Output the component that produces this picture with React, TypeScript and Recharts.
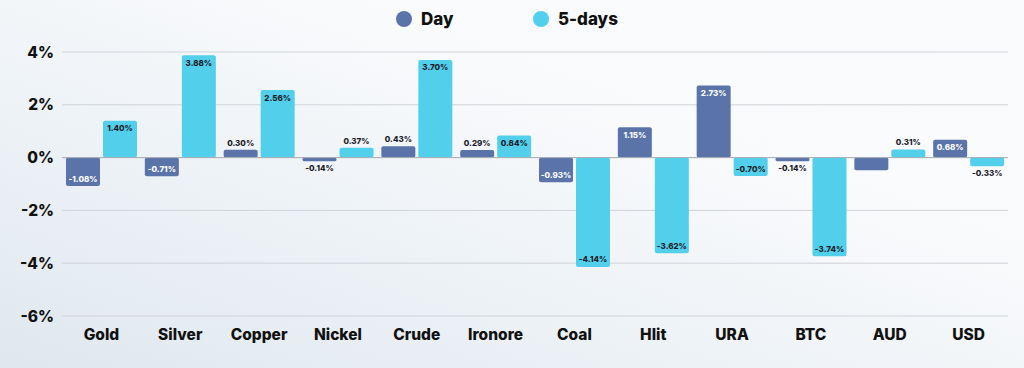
import React from "react";
import { BarChart, Bar, XAxis, YAxis, CartesianGrid, ReferenceLine, LabelList } from "recharts";

const categories = ["Gold", "Silver", "Copper", "Nickel", "Crude", "Ironore", "Coal", "Hlit", "URA", "BTC", "AUD", "USD"];
const dayValues = [-1.08, -0.71, 0.3, -0.14, 0.43, 0.29, -0.93, 1.15, 2.73, -0.14, -0.48, 0.68];
const fiveDayValues = [1.4, 3.88, 2.56, 0.37, 3.7, 0.84, -4.14, -3.62, -0.7, -3.74, 0.31, -0.33];
const dayLabels = ["-1.08%", "-0.71%", "0.30%", "-0.14%", "0.43%", "0.29%", "-0.93%", "1.15%", "2.73%", "-0.14%", "", "0.68%"];
const fiveDayLabels = ["1.40%", "3.88%", "2.56%", "0.37%", "3.70%", "0.84%", "-4.14%", "-3.62%", "-0.70%", "-3.74%", "0.31%", "-0.33%"];
const yTicks = [-6, -4, -2, 0, 2, 4];

const DAY_COLOR = "#5a74aa";
const FIVE_COLOR = "#52cfea";
const FONT = "Inter, 'Open Sans', sans-serif";

const data = categories.map((name, i) => ({
  name,
  day: dayValues[i],
  five: fiveDayValues[i],
  dayLabel: dayLabels[i],
  fiveLabel: fiveDayLabels[i],
}));

const RoundedBar = (props: any) => {
  const { x, y, width, height, fill } = props;
  if (width == null || height == null) return null;
  const top = Math.min(y, y + height);
  const h = Math.abs(height);
  const r = Math.min(2, h / 2, width / 2);
  return <rect x={x} y={top} width={width} height={h} rx={r} ry={r} fill={fill} />;
};

const makeLabel = (labels: string[], values: number[], insideColor: string, outsideColor: string) => (props: any) => {
  const { x, y, width, height, index } = props;
  const text = labels[index];
  if (!text) return null;
  const v = values[index];
  const top = Math.min(y, y + height);
  const bottom = Math.max(y, y + height);
  const h = Math.abs(height);
  const inside = h >= 15;
  let cy: number;
  if (v >= 0) {
    cy = inside ? top + 7.5 : top - 7;
  } else {
    cy = inside ? bottom - 7.5 : bottom + 7;
  }
  return (
    <text
      x={x + width / 2}
      y={cy}
      textAnchor="middle"
      dominantBaseline="central"
      fontSize={8}
      fontWeight={800}
      fontFamily={FONT}
      fill={inside ? insideColor : outsideColor}
    >
      {text}
    </text>
  );
};

const YTick = (props: any) => {
  const { x, y, payload } = props;
  return (
    <text x={x} y={y} textAnchor="end" dominantBaseline="central" fontSize={15.5} fontWeight={800} fontFamily={FONT} fill="#111">
      {`${payload.value}%`}
    </text>
  );
};

const XTick = (props: any) => {
  const { x, payload } = props;
  return (
    <text x={x} y={340} textAnchor="middle" fontSize={15.5} fontWeight={800} fontFamily={FONT} fill="#111">
      {payload.value}
    </text>
  );
};

const legendText: React.CSSProperties = { position: "absolute", top: 8, fontSize: 17, fontWeight: 800, color: "#111", lineHeight: "22px" };
const legendDot: React.CSSProperties = { position: "absolute", top: 11, width: 16, height: 16, borderRadius: 8 };

export default function App() {
  return (
    <div
      style={{
        position: "absolute",
        left: 0,
        top: 0,
        width: 1024,
        height: 368,
        background: "linear-gradient(20deg, #dfe8ef 0%, #edf2f6 35%, #f9fafc 65%, #fafbfd 100%)",
        fontFamily: FONT,
      }}
    >
      <span style={{ ...legendDot, left: 396, background: DAY_COLOR }} />
      <span style={{ ...legendText, left: 421 }}>Day</span>
      <span style={{ ...legendDot, left: 533, background: FIVE_COLOR }} />
      <span style={{ ...legendText, left: 558 }}>5-days</span>
      <div style={{ position: "absolute", left: 0, top: 0 }}>
        <BarChart
          width={1024}
          height={368}
          data={data}
          margin={{ top: 52, right: 16, bottom: 22, left: 0 }}
          barGap={3}
          barSize={34}
        >
          <CartesianGrid horizontal vertical={false} stroke="#cfd3d8" strokeWidth={1} />
          <XAxis dataKey="name" axisLine={false} tickLine={false} height={30} tick={<XTick />} interval={0} />
          <YAxis
            width={62}
            domain={[-6, 4]}
            ticks={yTicks}
            axisLine={false}
            tickLine={false}
            tick={<YTick />}
            tickMargin={2}
          />
          <ReferenceLine y={0} stroke="#a9aeb4" strokeWidth={1} />
          <Bar dataKey="day" fill={DAY_COLOR} isAnimationActive={false} shape={<RoundedBar />}>
            <LabelList dataKey="dayLabel" content={makeLabel(dayLabels, dayValues, "#ffffff", "#1b1b2b")} />
          </Bar>
          <Bar dataKey="five" fill={FIVE_COLOR} isAnimationActive={false} shape={<RoundedBar />}>
            <LabelList dataKey="fiveLabel" content={makeLabel(fiveDayLabels, fiveDayValues, "#1b1b2b", "#1b1b2b")} />
          </Bar>
        </BarChart>
      </div>
    </div>
  );
}
